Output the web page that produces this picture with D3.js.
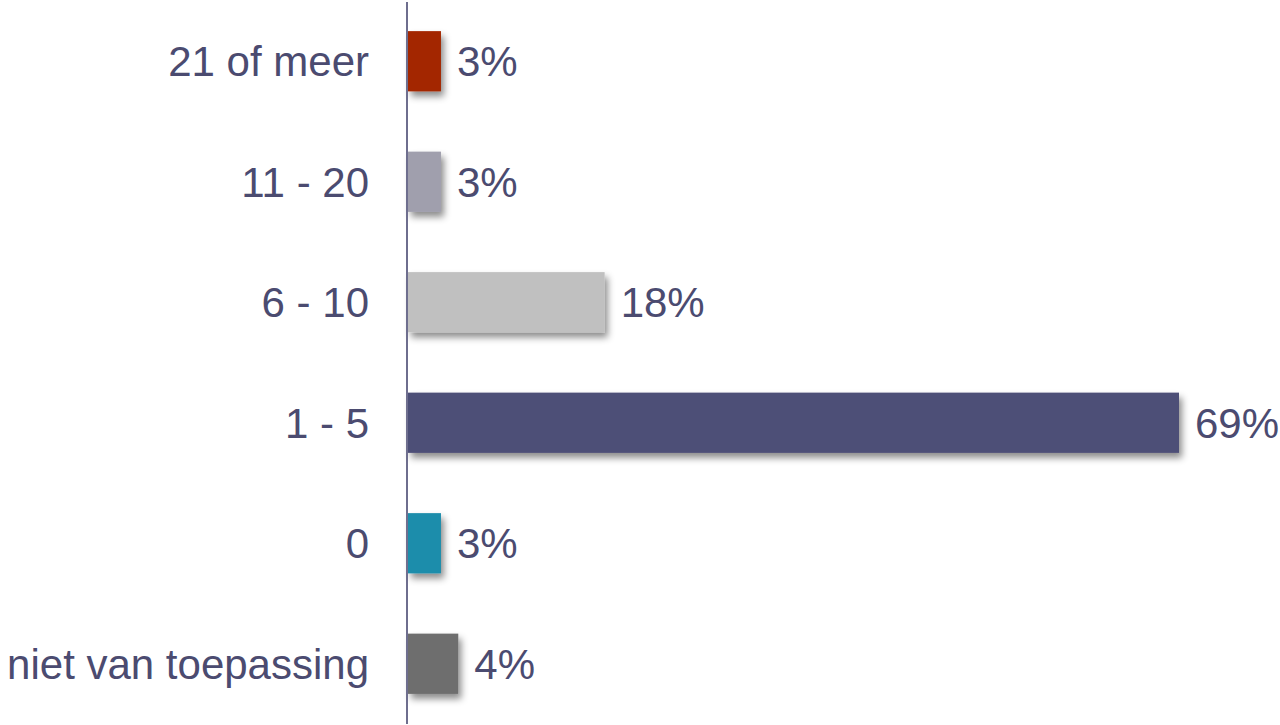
<!DOCTYPE html>
<html><head><meta charset="utf-8">
<script src="https://cdn.jsdelivr.net/npm/d3@7"></script>
<style>body{margin:0;background:#fff}svg{display:block}</style>
</head><body>
<script>
const categories = ["21 of meer", "11 - 20", "6 - 10", "1 - 5", "0", "niet van toepassing"];
const values = [2.95, 2.95, 17.6, 69, 2.95, 4.5];
const valueLabels = ["3%", "3%", "18%", "69%", "3%", "4%"];
const colors = ["#A32700", "#A09FAD", "#C0C0C0", "#4E4F77", "#1E8DAB", "#6E6E6E"];

const W = 1280, H = 725;
const svg = d3.select("body").append("svg").attr("width", W).attr("height", H);
const defs = svg.append("defs");
const f = defs.append("filter").attr("id", "sh").attr("x", "-20%").attr("y", "-20%").attr("width", "160%").attr("height", "160%");
f.append("feDropShadow").attr("dx", 3).attr("dy", 5).attr("stdDeviation", 3.5).attr("flood-color", "#000").attr("flood-opacity", 0.45);

const x0 = 408;
const x = d3.scaleLinear().domain([0, 69]).range([x0, 1179]);
const y = d3.scaleBand().domain(categories).range([1, 724]).paddingInner(0.5).paddingOuter(0.25);

svg.selectAll("rect.bar").data(categories).join("rect").attr("class", "bar")
  .attr("x", x(0)).attr("y", d => y(d))
  .attr("width", (d, i) => x(values[i]) - x(0))
  .attr("height", y.bandwidth())
  .attr("fill", (d, i) => colors[i])
  .attr("filter", "url(#sh)");

const font = "'Liberation Sans', Arial, sans-serif";
const textColor = "#4B4B70";

svg.selectAll("text.cat").data(categories).join("text").attr("class", "cat")
  .attr("x", 369).attr("y", d => y(d) + y.bandwidth() / 2)
  .attr("dy", "0.36em").attr("text-anchor", "end")
  .attr("font-family", font).attr("font-size", 42).attr("fill", textColor)
  .text(d => d);

svg.selectAll("text.val").data(categories).join("text").attr("class", "val")
  .attr("x", (d, i) => x(values[i]) + 16).attr("y", d => y(d) + y.bandwidth() / 2)
  .attr("dy", "0.36em")
  .attr("font-family", font).attr("font-size", 42).attr("fill", textColor)
  .text((d, i) => valueLabels[i]);

svg.append("line").attr("x1", 407).attr("x2", 407).attr("y1", 2).attr("y2", 724)
  .attr("stroke", "#6E6E8E").attr("stroke-width", 2);
</script>
</body></html>
